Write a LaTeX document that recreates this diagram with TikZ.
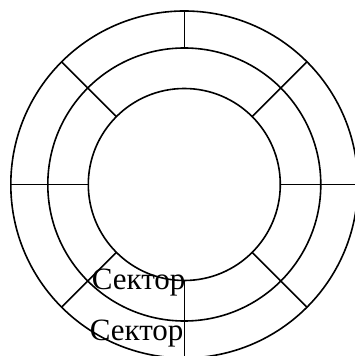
\documentclass[tikz,border=0pt]{standalone}
\usepackage{fontspec}
\setmainfont{Liberation Serif}
\usetikzlibrary{calc}
\begin{document}
\begin{tikzpicture}[x=1pt,y=1pt,line width=1.6pt,
  ring/.style={draw=black},
  spoke/.style={draw=black},
  lbl/.style={anchor=base west,inner sep=0pt,font=\fontsize{31}{36}\selectfont}]
\useasboundingbox (0,0) rectangle (355,356);
\coordinate (c) at (184.3,171.5);
\def\Ro{173.5}\def\Rm{136.5}\def\Ri{96}
\draw[ring] (c) circle[radius=\Ro];
\draw[ring] (c) circle[radius=\Rm];
\draw[ring] (c) circle[radius=\Ri];
% top spoke: outer to middle
\draw[spoke] ($(c)+(90:\Ro)$) -- ($(c)+(90:\Rm)$);
\foreach \a in {0,45,135,180,225,270,315}
  \draw[spoke] ($(c)+(\a:\Ri)$) -- ($(c)+(\a:\Ro)$);
\node[lbl] (s1) at (91,66) {Сектор};
\node[lbl] (s2) at (89,15) {Сектор};
\end{tikzpicture}
\end{document}
